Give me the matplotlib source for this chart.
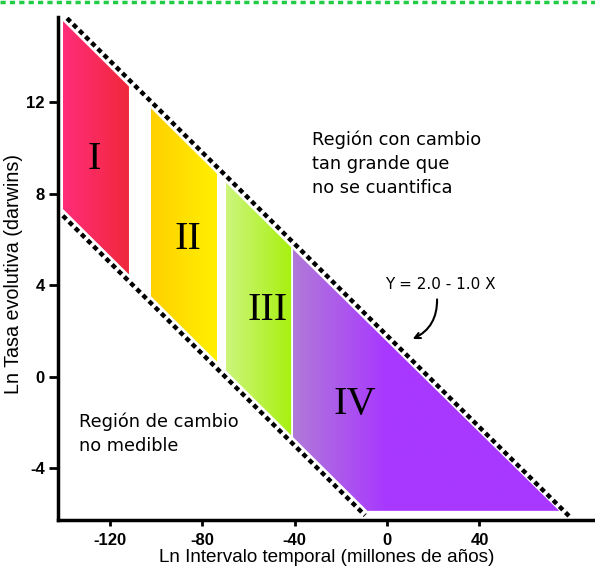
import numpy as np
import matplotlib.pyplot as plt
from matplotlib.colors import LinearSegmentedColormap
from matplotlib.patches import Polygon
from matplotlib.lines import Line2D

plt.rcParams['axes.unicode_minus'] = False

# limit lines: y = intercept + slope * x
upper_int, upper_slope = 1.8, -0.1
lower_int, lower_slope = -7.0, -0.1

# regions (x left, x right) and their colours (left -> right)
regions = ['I', 'II', 'III', 'IV']
x_left = [-140.3, -102.2, -69.7, -40.7]
x_right = [-111.7, -73.6, -41.5, 74.5]
colors_left = ['#ff2d7a', '#ffd000', '#ccf57c', '#b07ad8']
colors_right = ['#f0283a', '#fff000', '#a8f010', '#a838ff']
label_x = [-126.8, -86.1, -51.5, -13.9]
label_y = [9.5, 6.0, 2.9, -1.2]
floor_y = -5.85

xticks = [-120, -80, -40, 0, 40]
yticks = [-4, 0, 4, 8, 12]

fig = plt.figure(figsize=(5.95, 5.7), dpi=100)
ax = fig.add_axes([0.0975, 0.0877, 0.9025, 0.8823])
ax.set_xlim(-142.4, 90)
ax.set_ylim(-6.25, 15.7)

gap = 0.3
for i, name in enumerate(regions):
    x0, x1 = x_left[i], x_right[i]
    top0 = upper_int + upper_slope * x0 - gap
    top1 = upper_int + upper_slope * x1 - gap
    bot0 = lower_int + lower_slope * x0 + gap
    if name == 'IV':
        xc = (floor_y - gap - lower_int) / lower_slope
        verts = [(x0, top0), (x1, floor_y), (xc, floor_y), (x0, bot0)]
    else:
        bot1 = lower_int + lower_slope * x1 + gap
        verts = [(x0, top0), (x1, top1), (x1, bot1), (x0, bot0)]
    poly = Polygon(verts, closed=True, facecolor='none', edgecolor='none')
    ax.add_patch(poly)
    cmap = LinearSegmentedColormap.from_list(name, [colors_left[i], colors_right[i]])
    if name == 'IV':
        cmap = LinearSegmentedColormap.from_list(
            name, [(0, colors_left[i]), (0.35, colors_right[i]), (1, colors_right[i])])
    grad = np.linspace(0, 1, 256).reshape(1, -1)
    ys = [v[1] for v in verts]
    im = ax.imshow(grad, cmap=cmap, aspect='auto',
                   extent=[x0, x1, min(ys), max(ys)], zorder=1)
    im.set_clip_path(poly)
    ax.text(label_x[i], label_y[i], name, fontsize=29, family='Liberation Serif',
            ha='center', va='center', zorder=3)

# dashed limit lines
dash = (0, (1.1, 0.85))
xs = np.array([-138.5, 79.2])
ax.plot(xs, upper_int + upper_slope * xs, color='black', lw=3.2,
        linestyle=dash, zorder=2)
xs = np.array([-140.3, -9.5])
ax.plot(xs, lower_int + lower_slope * xs, color='black', lw=3.2,
        linestyle=dash, zorder=2)

txt_font = 'DejaVu Sans'
ax.text(-32.5, 9.3, 'Región con cambio\ntan grande que\nno se cuantifica',
        fontsize=12.8, family=txt_font, ha='left', va='center', linespacing=1.45)
ax.text(-133.3, -2.5, 'Región de cambio\nno medible',
        fontsize=12.8, family=txt_font, ha='left', va='center', linespacing=1.45)
ax.text(23, 4.02, 'Y = 2.0 - 1.0 X', fontsize=11, family=txt_font,
        ha='center', va='center')
ax.annotate('', xy=(10, 1.6), xytext=(21.6, 3.5),
            arrowprops=dict(arrowstyle='->', color='black', lw=1.5,
                            connectionstyle='arc3,rad=-0.35'))

for side in ['top', 'right']:
    ax.spines[side].set_visible(False)
for side in ['left', 'bottom']:
    ax.spines[side].set_linewidth(2.5)
ax.set_xticks(xticks)
ax.set_yticks(yticks)
ax.tick_params(axis='x', length=4, width=2, pad=5)
ax.tick_params(axis='y', length=6.5, width=2, pad=3)
for lab in ax.get_xticklabels() + ax.get_yticklabels():
    lab.set_fontweight('bold')
    lab.set_fontsize(12)
    lab.set_family('Liberation Sans')
ax.set_xlabel('Ln Intervalo temporal (millones de años)', fontsize=13.6,
              family='Liberation Sans', labelpad=1)
ax.set_ylabel('Ln Tasa evolutiva (darwins)', fontsize=14.2,
              family='Liberation Sans')
ax.yaxis.set_label_coords(-0.065, 0.49)

# green dashed border line at the top
fig.add_artist(Line2D([0, 1], [0.997, 0.997], transform=fig.transFigure,
                      color='#22cc44', lw=2.5, linestyle=(0, (1.5, 1.2))))

fig.savefig('out.png', dpi=100)
